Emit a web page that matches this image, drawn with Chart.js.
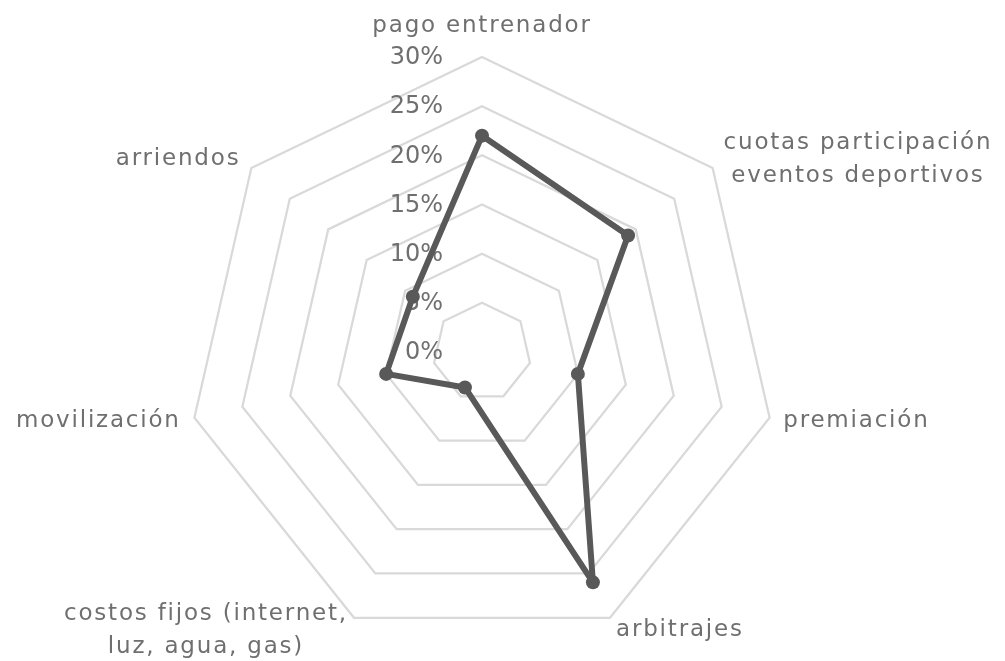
<!DOCTYPE html>
<html>
<head>
<meta charset="utf-8">
<script src="https://cdn.jsdelivr.net/npm/chart.js@4/dist/chart.umd.min.js"></script>
<style>
  html, body { margin: 0; padding: 0; background: #ffffff; }
  #wrap { width: 1005px; height: 661px; position: relative; }
</style>
</head>
<body>
<div id="wrap"><canvas id="c"></canvas></div>
<script>
// ---- data ----
const categories = [
  'pago entrenador',
  ['cuotas participación', 'eventos deportivos'],
  'premiación',
  'arbitrajes',
  ['costos fijos (internet,', 'luz, agua, gas)'],
  'movilización',
  'arriendos'
];
const seriesValues = [22, 19, 10, 26, 4, 10, 9];
const tickValues = [0, 5, 10, 15, 20, 25, 30];
const tickLabels = ['0%', '5%', '10%', '15%', '20%', '25%', '30%'];

const TEXT_COLOR = '#6f6f6f';
const LABEL_FONT = '23px "DejaVu Sans"';
const TICK_FONT = '24px "DejaVu Sans"';

const tickPlugin = {
  id: 'tickText',
  beforeDatasetsDraw(chart) {
    const s = chart.scales.r;
    const ctx = chart.ctx;
    ctx.save();
    ctx.font = TICK_FONT;
    ctx.fillStyle = TEXT_COLOR;
    ctx.textAlign = 'right';
    ctx.textBaseline = 'middle';
    s.ticks.forEach((t) => {
      const d = s.getDistanceFromCenterForValue(t.value);
      ctx.fillText(t.label, s.xCenter - 39, s.yCenter - d + 1);
    });
    ctx.restore();
  }
};

const labelPlugin = {
  id: 'catText',
  afterDatasetsDraw(chart) {
    const s = chart.scales.r;
    const ctx = chart.ctx;
    const labels = chart.data.labels;
    ctx.save();
    ctx.font = LABEL_FONT;
    try { ctx.letterSpacing = '1.8px'; } catch (e) {}
    ctx.fillStyle = TEXT_COLOR;
    ctx.textAlign = 'center';
    ctx.textBaseline = 'middle';
    const lh = 33;
    labels.forEach((lab, i) => {
      const p = s.getPointPosition(i, s.drawingArea + 14);
      const ang = s.getIndexAngle(i);
      const dx = Math.sin(ang), dy = -Math.cos(ang);
      const lines = Array.isArray(lab) ? lab : [lab];
      const bw = Math.max(...lines.map(l => ctx.measureText(l).width));
      const bh = lines.length * lh;
      let cx, cy;
      if (Math.abs(dx) < 0.01) {
        cx = p.x;
        cy = dy < 0 ? p.y - bh / 2 : p.y + bh / 2;
      } else {
        cx = dx > 0 ? p.x + bw / 2 : p.x - bw / 2;
        cy = p.y;
      }
      lines.forEach((ln, k) => {
        ctx.fillText(ln, cx, cy - bh / 2 + lh * (k + 0.5));
      });
    });
    ctx.restore();
  }
};

new Chart(document.getElementById('c'), {
  type: 'radar',
  data: {
    labels: categories,
    datasets: [{
      data: seriesValues,
      fill: false,
      borderColor: '#595959',
      backgroundColor: '#595959',
      borderWidth: 6,
      borderJoinStyle: 'round',
      pointRadius: 7,
      pointHoverRadius: 7,
      pointBorderWidth: 0,
      pointBackgroundColor: '#595959',
      tension: 0
    }]
  },
  options: {
    responsive: true,
    maintainAspectRatio: false,
    devicePixelRatio: 1,
    animation: false,
    layout: { padding: { left: 187, right: 228, top: 57, bottom: 14 } },
    plugins: { legend: { display: false }, tooltip: { enabled: false } },
    scales: {
      r: {
        min: tickValues[0],
        max: tickValues[tickValues.length - 1],
        startAngle: 0,
        angleLines: { display: false },
        grid: { circular: false, color: '#d9d9d9', lineWidth: 2.25 },
        pointLabels: { display: false },
        ticks: {
          display: false,
          stepSize: 5,
          callback: (v, idx) => tickLabels[tickValues.indexOf(v)] ?? (v + '%')
        }
      }
    }
  },
  plugins: [tickPlugin, labelPlugin]
});
</script>
</body>
</html>
